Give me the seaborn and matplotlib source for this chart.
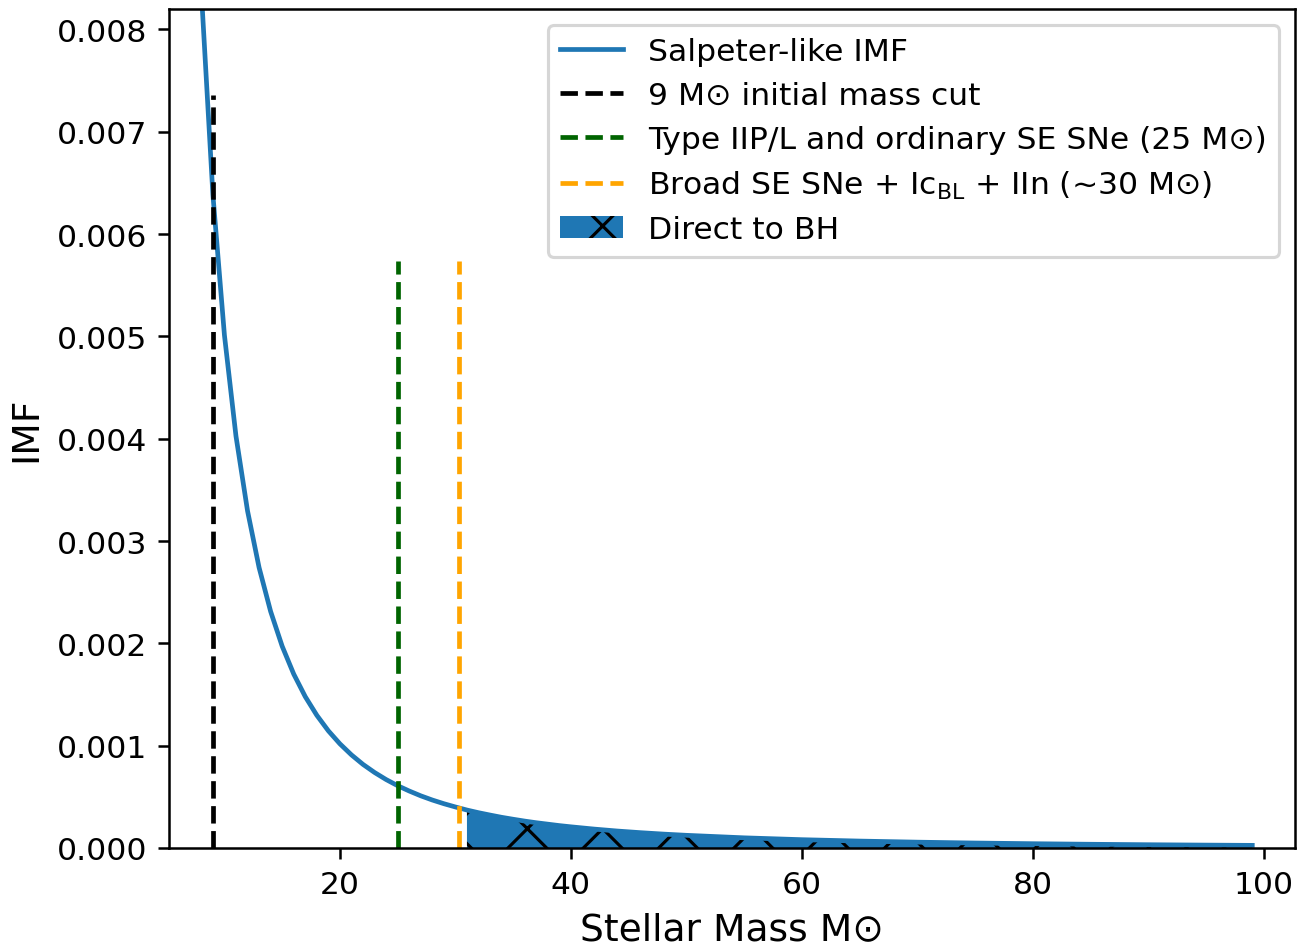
import numpy as np
import matplotlib
matplotlib.use("Agg")
import matplotlib.pyplot as plt
import seaborn as sns

# Stellar masses (solar masses) and IMF values
mass = [8, 9, 10, 11, 12, 13, 14, 15, 16, 17, 18, 19, 20, 21, 22, 23, 24, 25,
        26, 27, 28, 29, 30, 31, 32, 33, 34, 35, 36, 37, 38, 39, 40, 42, 44, 46,
        48, 50, 55, 60, 65, 70, 75, 80, 85, 90, 95, 99]
imf = [0.008373, 0.006386, 0.005012, 0.004025, 0.003295, 0.002741, 0.002312,
       0.001972, 0.001700, 0.001479, 0.001297, 0.001145, 0.001018, 0.000910,
       0.000817, 0.000738, 0.000669, 0.000609, 0.000557, 0.000510, 0.000469,
       0.000433, 0.000401, 0.000371, 0.000345, 0.000322, 0.000300, 0.000281,
       0.000263, 0.000247, 0.000233, 0.000219, 0.000207, 0.000185, 0.000166,
       0.000150, 0.000136, 0.000124, 0.0000994, 0.0000813, 0.0000677,
       0.0000571, 0.0000487, 0.0000420, 0.0000365, 0.0000320, 0.0000283,
       0.0000257]

# Mass cuts: position, line top, colour, label
cut_mass = [9, 25, 30.3]
cut_top = [0.00736, 0.00574, 0.00574]
cut_colors = ["black", "darkgreen", "orange"]
cut_labels = ["9 M\u2299 initial mass cut",
              "Type IIP/L and ordinary SE SNe (25 M\u2299)",
              "Broad SE SNe + Ic$_{\\mathrm{BL}}$ + IIn (~30 M\u2299)"]

bh_min_mass = 31

xticks = [20, 40, 60, 80, 100]
yticks = [0.000, 0.001, 0.002, 0.003, 0.004, 0.005, 0.006, 0.007, 0.008]

mass_arr = np.array(mass, dtype=float)
imf_arr = np.array(imf, dtype=float)

fig = plt.figure(figsize=(1299 / 226, 946 / 226), dpi=226)
ax = fig.add_axes([169 / 1299, 1 - 849 / 946, (1295 - 169) / 1299, (849 - 10) / 946])

sns.lineplot(x=mass_arr, y=imf_arr, ax=ax, color="#1f77b4", linewidth=1.5,
             label="Salpeter-like IMF", sort=False, estimator=None)

for m, top, c, lab in zip(cut_mass, cut_top, cut_colors, cut_labels):
    ax.vlines(m, 0, top, colors=c, linestyles="--", linewidth=1.5, label=lab)

sel = mass_arr >= bh_min_mass
ax.fill_between(mass_arr[sel], imf_arr[sel], facecolor="#1f77b4",
                edgecolor="black", linewidth=0, hatch="x", label="Direct to BH")

ax.set_xlim(5.2, 102.7)
ax.set_ylim(0, 0.0082)
ax.set_xticks(xticks)
ax.set_yticks(yticks)
ax.set_xlabel("Stellar Mass M\u2299", fontsize=12)
ax.set_ylabel("IMF", fontsize=12)
ax.legend(loc="upper right", fontsize=10, borderpad=0.4, handletextpad=0.8,
          labelspacing=0.47)

fig.savefig("out.png", dpi=226)
